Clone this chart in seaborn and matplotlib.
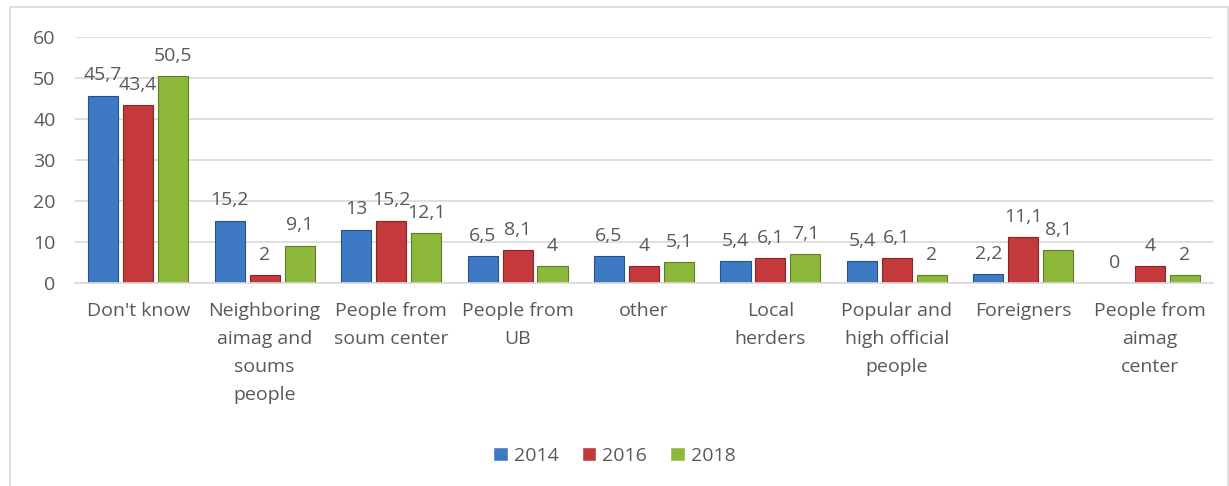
import seaborn as sns
import matplotlib.pyplot as plt
import pandas as pd
from matplotlib.patches import Rectangle

# data
categories = ["Don't know", "Neighboring\naimag and\nsoums\npeople", "People from\nsoum center",
              "People from\nUB", "other", "Local\nherders", "Popular and\nhigh official\npeople",
              "Foreigners", "People from\naimag\ncenter"]
years = ["2014", "2016", "2018"]
v2014 = [45.7, 15.2, 13, 6.5, 6.5, 5.4, 5.4, 2.2, 0]
v2016 = [43.4, 2, 15.2, 8.1, 4, 6.1, 6.1, 11.1, 4]
v2018 = [50.5, 9.1, 12.1, 4, 5.1, 7.1, 2, 8.1, 2]

colors = ["#3E7AC4", "#C4393B", "#8DB83C"]
edges = ["#25528A", "#8A2527", "#5F7E24"]
txt = "#595959"
fs = 14

df = pd.DataFrame({
    "category": categories * 3,
    "year": [y for y in years for _ in categories],
    "value": v2014 + v2016 + v2018,
})

sns.set_style("white")
plt.rcParams["font.family"] = ["Open Sans", "DejaVu Sans"]

fig = plt.figure(figsize=(12.29, 4.86), dpi=100)
ax = fig.add_axes([0.061, 0.418, 0.926, 0.506])

sns.barplot(data=df, x="category", y="value", hue="year", palette=colors, saturation=1,
            width=0.83, gap=0.14, ax=ax, legend=True)

for cont, ec in zip(ax.containers, edges):
    for bar in cont:
        bar.set_edgecolor(ec)
        bar.set_linewidth(0.8)
    labels = [("%g" % b.get_height()).replace(".", ",") for b in cont]
    ax.bar_label(cont, labels=labels, padding=8, fontsize=fs, color=txt)

ax.set_ylim(0, 60)
ax.set_yticks(range(0, 61, 10))
ax.set_xlim(-0.5, len(categories) - 0.5)
ax.grid(axis="y", color="#D9D9D9", linewidth=1.2)
ax.set_axisbelow(True)
for s in ["left", "right", "top"]:
    ax.spines[s].set_visible(False)
ax.spines["bottom"].set_color("#D9D9D9")
ax.spines["bottom"].set_linewidth(1.2)
ax.tick_params(axis="x", length=0, labelsize=fs, colors=txt, pad=14)
ax.tick_params(axis="y", length=0, labelsize=fs, colors=txt, pad=14)
for t in ax.get_xticklabels():
    t.set_linespacing(1.7)
    t.set_verticalalignment("top")
ax.set_xlabel("")
ax.set_ylabel("")

handles, labs = ax.get_legend_handles_labels()
ax.get_legend().remove()
fig.legend(handles, labs, loc="center", bbox_to_anchor=(0.5, 0.062), ncol=3, frameon=False,
           fontsize=fs, labelcolor=txt, handlelength=0.75, handleheight=0.75,
           handletextpad=0.3, columnspacing=1.2)

# chart border
fig.patches.append(Rectangle((10 / 1229, -0.05), 1218 / 1229, 1 - 7 / 486 + 0.05,
                             transform=fig.transFigure, fill=False, edgecolor="#D9D9D9",
                             linewidth=1.2))

fig.savefig("out.png", dpi=100)
